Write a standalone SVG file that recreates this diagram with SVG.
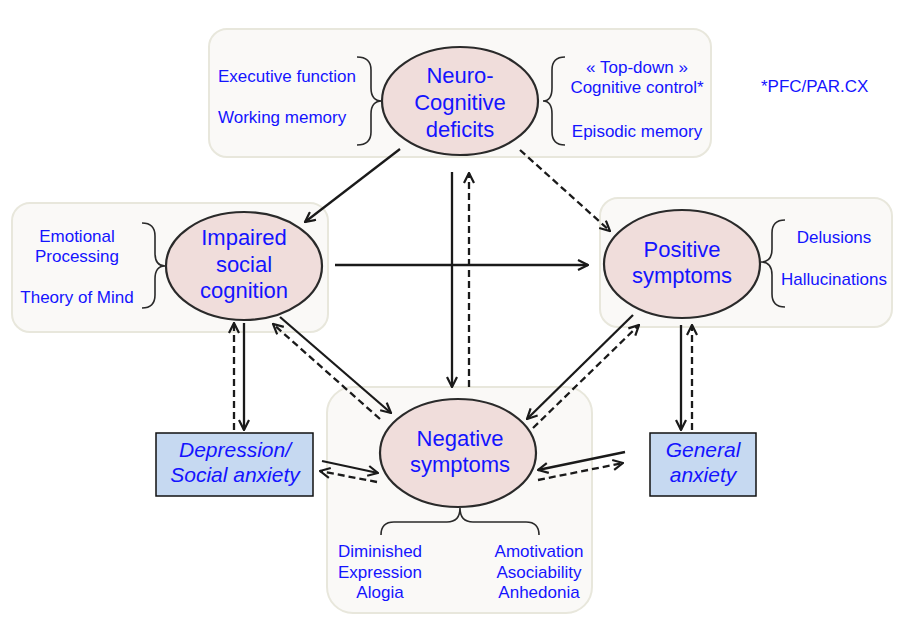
<svg xmlns="http://www.w3.org/2000/svg" width="906" height="625" viewBox="0 0 906 625">
<defs>
<style>
.box{fill:#faf9f7;stroke:#e8e7dc;stroke-width:2}
.ell{fill:#f0dddb;stroke:#2a2a2a;stroke-width:2.2}
.t{font-family:"Liberation Sans",Arial,sans-serif;fill:#1414ff}
.big{font-size:22px;text-anchor:middle}
.sm{font-size:17px}
.mid{text-anchor:middle}
.it{font-style:italic;font-size:21px;text-anchor:middle}
.brace{fill:none;stroke:#2a2a2a;stroke-width:1.6}
.blue{fill:#c6d9f1;stroke:#111;stroke-width:1.5}
.s{fill:none;stroke:#1a1a1a;stroke-width:2.3;marker-end:url(#ah)}
.d{fill:none;stroke:#1a1a1a;stroke-width:2.3;stroke-dasharray:7,4;marker-end:url(#ah)}
</style>
<marker id="ah" viewBox="0 0 12 12" refX="11" refY="6" markerWidth="12" markerHeight="12" markerUnits="userSpaceOnUse" orient="auto">
<path d="M1,1 L11,6 L1,11" fill="none" stroke="#1a1a1a" stroke-width="2.2" stroke-dasharray="none"/>
</marker>
</defs>
<rect width="906" height="625" fill="#fff"/>

<g id="neurocognitive">
<rect class="box" x="209" y="29" width="502" height="128" rx="18"/>
<ellipse class="ell" cx="460" cy="101" rx="78" ry="54"/>
<text class="t big" x="460" y="83">Neuro-</text>
<text class="t big" x="460" y="110">Cognitive</text>
<text class="t big" x="460" y="137">deficits</text>
<path class="brace" d="M357,57 Q371,57 371,70 L371,88 Q371,101 382,101 Q371,101 371,114 L371,132 Q371,145 357,145"/>
<path class="brace" d="M565,57 Q552,57 552,70 L552,88 Q552,101 543,101 Q552,101 552,114 L552,132 Q552,145 565,145"/>
<text class="t sm" x="218" y="82">Executive function</text>
<text class="t sm" x="218" y="123">Working memory</text>
<text class="t sm mid" x="637" y="73">« Top-down »</text>
<text class="t sm mid" x="637" y="93">Cognitive control*</text>
<text class="t sm mid" x="637" y="137">Episodic memory</text>
</g>

<g id="note">
<text class="t sm" x="761" y="92">*PFC/PAR.CX</text>
</g>

<g id="social">
<rect class="box" x="12" y="203" width="316" height="129" rx="18"/>
<ellipse class="ell" cx="244" cy="266" rx="78" ry="54"/>
<text class="t big" x="244" y="245">Impaired</text>
<text class="t big" x="244" y="272">social</text>
<text class="t big" x="244" y="298">cognition</text>
<path class="brace" d="M142,223 Q155,223 155,236 L155,253 Q155,266 165,266 Q155,266 155,279 L155,295 Q155,308 142,308"/>
<text class="t sm mid" x="77" y="242">Emotional</text>
<text class="t sm mid" x="77" y="262">Processing</text>
<text class="t sm mid" x="77" y="303">Theory of Mind</text>
</g>

<g id="positive">
<rect class="box" x="600" y="198" width="292" height="129" rx="18"/>
<ellipse class="ell" cx="682" cy="264" rx="78" ry="54"/>
<text class="t big" x="682" y="257">Positive</text>
<text class="t big" x="682" y="283">symptoms</text>
<path class="brace" d="M785,220 Q772,220 772,233 L772,249 Q772,262 761,262 Q772,262 772,275 L772,294 Q772,307 785,307"/>
<text class="t sm mid" x="834" y="243">Delusions</text>
<text class="t sm mid" x="834" y="285">Hallucinations</text>
</g>

<g id="negative">
<rect class="box" x="327" y="387" width="265" height="226" rx="26"/>
<ellipse class="ell" cx="458" cy="453" rx="78" ry="54"/>
<text class="t big" x="460" y="446">Negative</text>
<text class="t big" x="460" y="472">symptoms</text>
<path class="brace" d="M381,535 Q381,522 394,522 L447,522 Q460,522 460,508 Q460,522 473,522 L526,522 Q539,522 539,535"/>
<text class="t sm mid" x="380" y="557">Diminished</text>
<text class="t sm mid" x="380" y="578">Expression</text>
<text class="t sm mid" x="380" y="598">Alogia</text>
<text class="t sm mid" x="539" y="557">Amotivation</text>
<text class="t sm mid" x="539" y="578">Asociability</text>
<text class="t sm mid" x="539" y="598">Anhedonia</text>
</g>

<g id="depression">
<rect class="blue" x="156" y="433" width="157" height="63"/>
<text class="t it" x="235" y="457">Depression/</text>
<text class="t it" x="235" y="482">Social anxiety</text>
</g>

<g id="general">
<rect class="blue" x="650" y="433" width="106" height="63"/>
<text class="t it" x="703" y="457">General</text>
<text class="t it" x="703" y="482">anxiety</text>
</g>

<g id="connectors">
<path class="s" d="M400,149 L305,222"/>
<path class="d" d="M520,150 L610,231"/>
<path class="s" d="M452,172 L452,387"/>
<path class="d" d="M469,387 L469,173"/>
<path class="s" d="M335,265 L588,265"/>
<path class="s" d="M280,317 L391,413"/>
<path class="d" d="M380,419 L273,324"/>
<path class="s" d="M244,323 L244,430"/>
<path class="d" d="M234,430 L234,323"/>
<path class="s" d="M322,461 L378,473"/>
<path class="d" d="M377,482 L320,471"/>
<path class="s" d="M633,315 L527,419"/>
<path class="d" d="M533,428 L639,325"/>
<path class="s" d="M681,325 L681,430"/>
<path class="d" d="M692,430 L692,325"/>
<path class="s" d="M625,452 L538,470"/>
<path class="d" d="M538,480 L623,463"/>
</g>
</svg>
